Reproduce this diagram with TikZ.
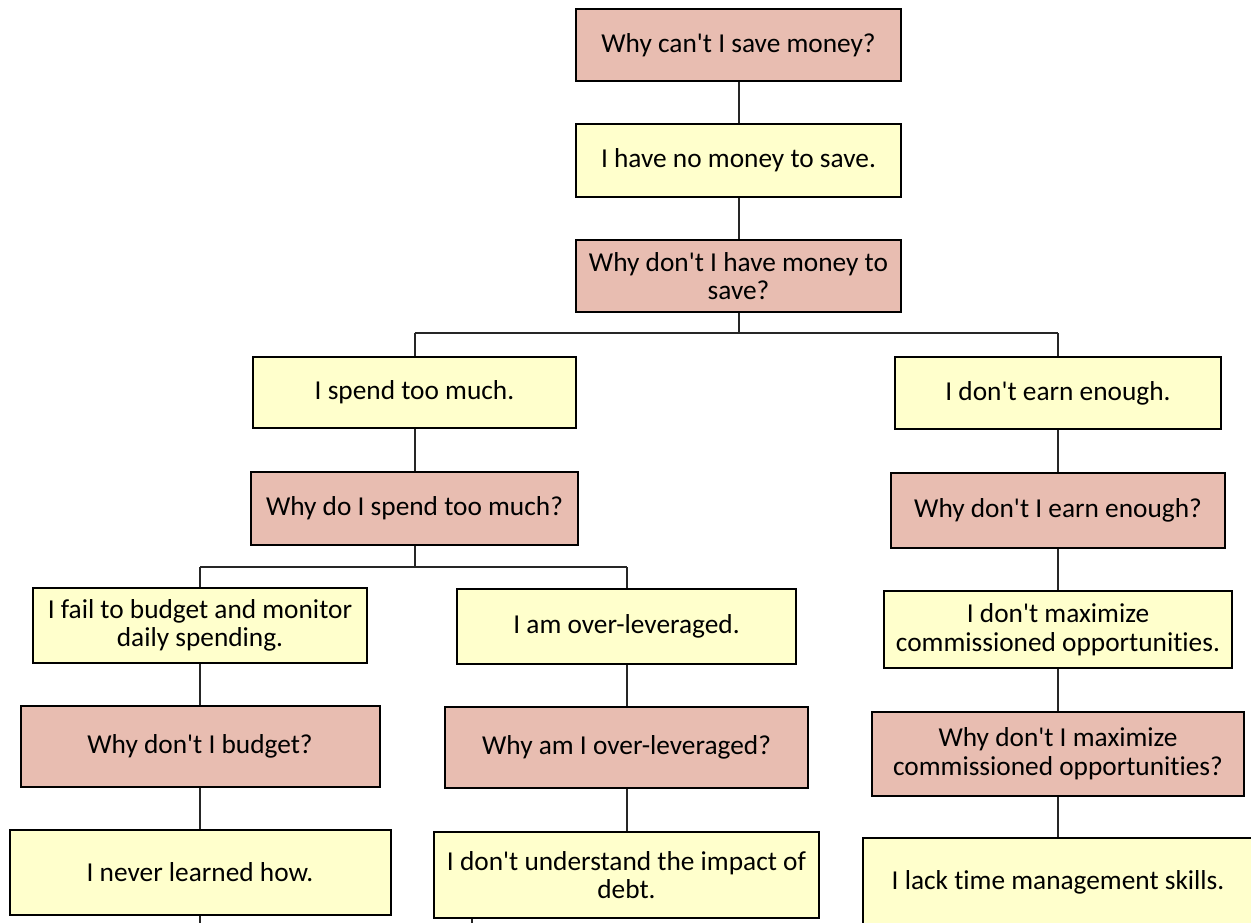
\documentclass[tikz,border=0pt]{standalone}
\usepackage{fontspec}
\setmainfont{Carlito}[Ligatures={TeXOff,NoCommon}]
\definecolor{qpink}{HTML}{E8BDB1}
\definecolor{ayellow}{HTML}{FFFFCC}
\definecolor{lineclr}{HTML}{262626}
\tikzset{
  x=0.75pt, y=-0.75pt,
  base/.style 2 args={draw=black, line width=1.5pt, rectangle, inner sep=0pt,
    minimum width=#1*0.75pt, minimum height=#2*0.75pt, align=center,
    font=\fontsize{20.5}{21.5}\selectfont},
  qbox/.style 2 args={base={#1}{#2}, fill=qpink},
  abox/.style 2 args={base={#1}{#2}, fill=ayellow},
  conn/.style={draw=lineclr, line width=1.5pt},
}
\begin{document}
\begin{tikzpicture}
\useasboundingbox (0,0) rectangle (1251,922);
\clip (0,0) rectangle (1251,922);
\coordinate (j1) at (738.5,333);
\coordinate (j1l) at (414.5,333);
\coordinate (j1r) at (1058,333);
\coordinate (j2) at (414.5,567);
\coordinate (j2l) at (200,567);
\coordinate (j2r) at (626.5,567);
\coordinate (s1) at (200,925);
\coordinate (s2) at (472,925);
% nodes
\node[qbox={325}{72}] (q1) at (738.5,45) {Why can't I save money?};
\node[abox={325}{73}] (a1) at (738.5,160.5) {I have no money to save.};
\node[qbox={325}{72}] (q2) at (738.5,276) {Why don't I have money to\\save?};
\node[abox={323}{71}] (a2) at (414.5,392.5) {I spend too much.};
\node[qbox={327}{73}] (q3) at (414.5,508.5) {Why do I spend too much?};
\node[abox={326}{72}] (a3) at (1058,393) {I don't earn enough.};
\node[qbox={334}{75}] (q4) at (1058,510.5) {Why don't I earn enough?};
\node[abox={334}{75}] (a4) at (200,625.5) {I fail to budget and monitor\\daily spending.};
\node[qbox={359}{81}] (q5) at (200,746.5) {Why don't I budget?};
\node[abox={381}{85}] (a5) at (200,872.5) {I never learned how.};
\node[abox={339}{75}] (a6) at (626.5,626.5) {I am over-leveraged.};
\node[qbox={363}{81}] (q6) at (626.5,747.5) {Why am I over-leveraged?};
\node[abox={385}{86}] (a7) at (626.5,875) {I don't understand the impact of\\debt.};
\node[abox={348}{77}] (a8) at (1058,629.5) {I don't maximize\\commissioned opportunities.};
\node[qbox={372}{84}] (q7) at (1058,754) {Why don't I maximize\\commissioned opportunities?};
\node[abox={390}{88}] (a9) at (1058,882) {I lack time management skills.};
% connectors
\draw[conn] (q1) -- (a1);
\draw[conn] (a1) -- (q2);
\draw[conn] (q2) -- (j1);
\draw[conn] (j1l) -- (j1r);
\draw[conn] (j1l) -- (a2);
\draw[conn] (j1r) -- (a3);
\draw[conn] (a2) -- (q3);
\draw[conn] (q3) -- (j2);
\draw[conn] (j2l) -- (j2r);
\draw[conn] (j2l) -- (a4);
\draw[conn] (j2r) -- (a6);
\draw[conn] (a4) -- (q5);
\draw[conn] (q5) -- (a5);
\draw[conn] (a6) -- (q6);
\draw[conn] (q6) -- (a7);
\draw[conn] (a3) -- (q4);
\draw[conn] (q4) -- (a8);
\draw[conn] (a8) -- (q7);
\draw[conn] (q7) -- (a9);
\draw[conn] (a5.south) -- (s1);
\draw[conn] (a7.south -| s2) -- (s2);
\end{tikzpicture}
\end{document}
